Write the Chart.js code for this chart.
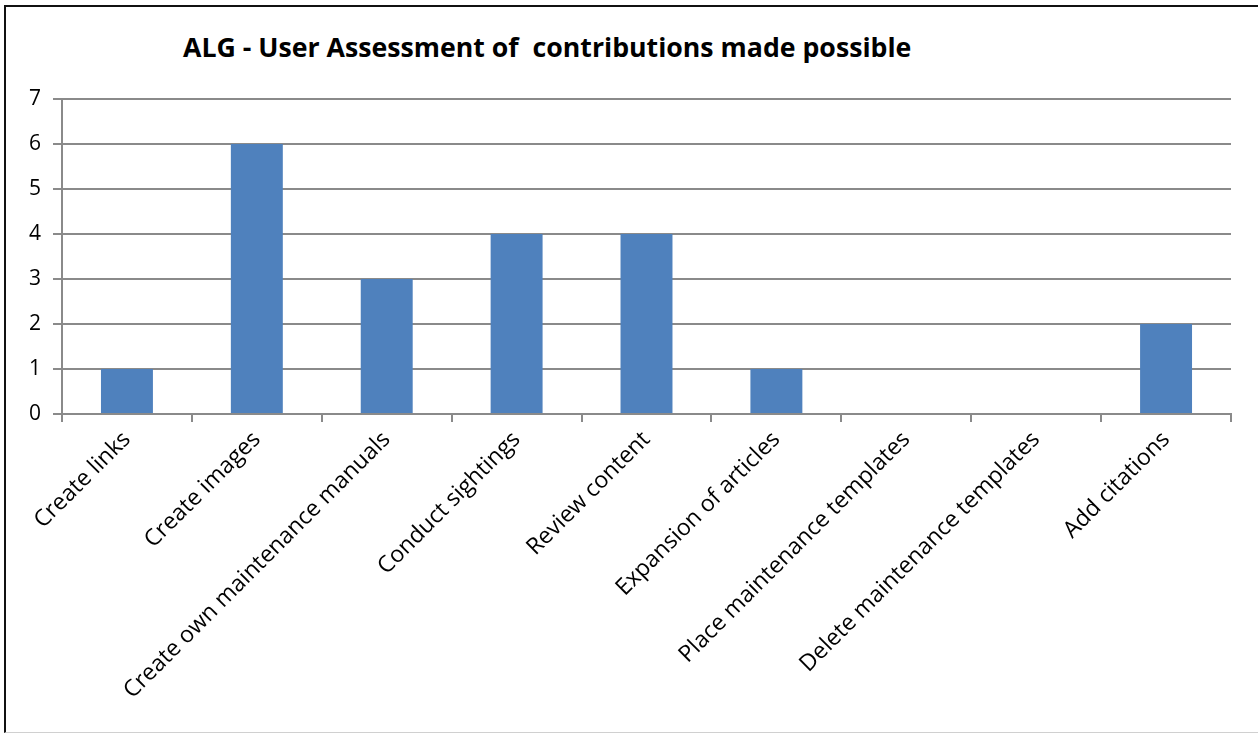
<!DOCTYPE html>
<html>
<head>
<meta charset="utf-8">
<script src="https://cdn.jsdelivr.net/npm/chart.js@4"></script>
<style>
  html, body { margin: 0; padding: 0; background: #fff; overflow: hidden; }
  #frame {
    position: absolute; left: 4px; top: 5px; width: 1300px; height: 725px;
    border-left: 2px solid #111; border-top: 2px solid #111; border-bottom: 1px solid #d0d0d0;
  }
  #title {
    position: absolute; left: 183px; top: 28px;
    font: bold 26.7px "Open Sans", sans-serif; color: #000; white-space: pre;
  }
  #wrap { position: absolute; left: 0; top: 0; width: 1258px; height: 733px; }
</style>
</head>
<body>
<div id="frame"></div>
<div id="title">ALG - User Assessment of  contributions made possible</div>
<div id="wrap"><canvas id="barChart"></canvas></div>
<script>
var categories = ["Create links", "Create images", "Create own maintenance manuals", "Conduct sightings",
  "Review content", "Expansion of articles", "Place maintenance templates",
  "Delete maintenance templates", "Add citations"];
var counts = [1, 6, 3, 4, 4, 1, 0, 0, 2];
var yTicks = [0, 1, 2, 3, 4, 5, 6, 7];

var colorBar = '#4F81BD';
var gridColor = '#8a8a8a';

var barData = {
  labels: categories,
  datasets: [{
    label: "Users",
    backgroundColor: colorBar,
    data: counts,
    categoryPercentage: 1.0,
    barPercentage: 0.4
  }]
};

var barOptions = {
  responsive: true,
  maintainAspectRatio: false,
  animation: false,
  layout: { padding: { top: 99, right: 27, left: 0, bottom: 0 } },
  plugins: { legend: { display: false }, title: { display: false }, tooltip: { enabled: false } },
  scales: {
    x: {
      offset: true,
      grid: { offset: true, drawOnChartArea: false, color: gridColor, lineWidth: 2, tickLength: 8 },
      border: { color: gridColor, width: 2 },
      ticks: {
        color: '#000', minRotation: 45, maxRotation: 45, padding: 4,
        font: { family: '"Open Sans", sans-serif', size: 23 }
      },
      afterFit: function (scale) { scale.height = 319; }
    },
    y: {
      min: 0, max: 7,
      afterBuildTicks: function (scale) { scale.ticks = yTicks.map(function (v) { return { value: v }; }); },
      grid: { color: gridColor, lineWidth: 2, tickLength: 9 },
      border: { color: gridColor, width: 2 },
      ticks: {
        color: '#000', padding: 12,
        font: { family: '"Open Sans", sans-serif', size: 21 }
      },
      afterFit: function (scale) { scale.width = 62; }
    }
  }
};

var ctx = document.getElementById("barChart").getContext("2d");
new Chart(ctx, { type: 'bar', data: barData, options: barOptions });
</script>
</body>
</html>
